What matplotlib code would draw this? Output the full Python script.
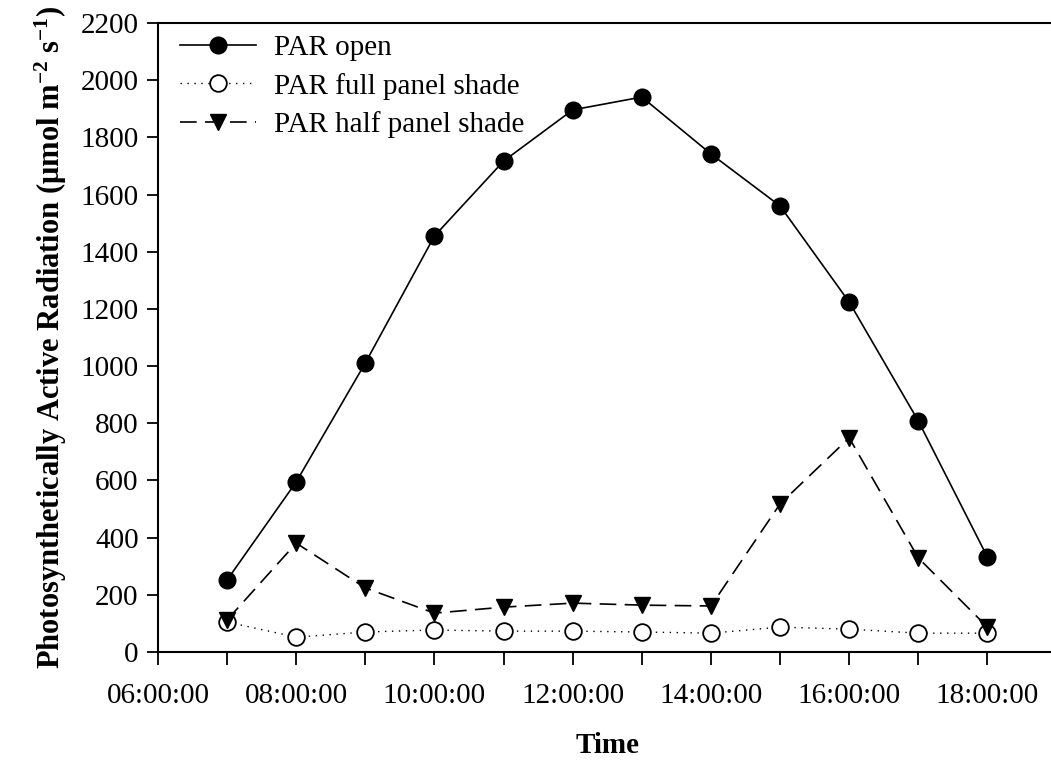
import matplotlib
matplotlib.use("Agg")
from matplotlib import pyplot as plt
import matplotlib.dates as mdates
import pandas as pd

# Data
times = ["07:00:00", "08:00:00", "09:00:00", "10:00:00", "11:00:00", "12:00:00",
         "13:00:00", "14:00:00", "15:00:00", "16:00:00", "17:00:00", "18:00:00"]
par_open = [252, 595, 1011, 1455, 1717, 1896, 1941, 1742, 1560, 1224, 808, 332]
par_full_shade = [105, 52, 70, 77, 73, 73, 70, 66, 87, 80, 66, 66]
par_half_shade = [112, 381, 224, 136, 157, 171, 164, 161, 518, 749, 329, 87]
yticks = list(range(0, 2201, 200))

plt.rcParams['font.family'] = ['Liberation Serif', 'DejaVu Serif']
plt.rcParams['mathtext.fontset'] = 'custom'
plt.rcParams['mathtext.rm'] = 'Liberation Serif:bold'
plt.rcParams['mathtext.bf'] = 'Liberation Serif:bold'
plt.rcParams['mathtext.default'] = 'bf'

t = pd.to_datetime(["2000-01-01 " + s for s in times])

fig = plt.figure(figsize=(10.51, 7.61), dpi=100)
ax = fig.add_axes([0.1503, 0.1432, 0.855, 0.8266])

ax.plot(t, par_open, color='black', lw=1.2, marker='o', markersize=12,
        label="PAR open")
ax.plot(t, par_full_shade, color='black', lw=1.0, linestyle=(0, (1, 4)),
        marker='o', markersize=12, markerfacecolor='white',
        markeredgecolor='black', markeredgewidth=1.3, label="PAR full panel shade")
ax.plot(t, par_half_shade, color='black', lw=1.2, linestyle=(0, (10, 5)),
        marker='v', markersize=12, label="PAR half panel shade")

ax.set_xlim(pd.Timestamp("2000-01-01 06:00:00"), pd.Timestamp("2000-01-01 19:00:00"))
ax.set_ylim(0, 2200)
ax.set_yticks(yticks)

ax.xaxis.set_major_locator(mdates.HourLocator(byhour=range(6, 20, 2)))
ax.xaxis.set_minor_locator(mdates.HourLocator(byhour=range(7, 20, 2)))
ax.xaxis.set_major_formatter(mdates.DateFormatter('%H:%M:%S'))

ax.tick_params(axis='both', which='both', direction='out', width=1.3,
               labelsize=21, colors='black')
ax.tick_params(axis='x', which='both', length=9, pad=13)
ax.tick_params(axis='y', length=8, pad=6)

for s in ax.spines.values():
    s.set_linewidth(1.5)

ax.set_xlabel("Time", fontsize=21, fontweight='bold', labelpad=17)
ax.set_ylabel(r"Photosynthetically Active Radiation (μmol m$^{-2}$ s$^{-1}$)",
              fontsize=22, fontweight='bold', labelpad=8)

ax.legend(loc='upper left', frameon=False, fontsize=21, handlelength=2.6,
          borderaxespad=0.0, labelspacing=0.4, handletextpad=0.6,
          bbox_to_anchor=(0.012, 1.0))

fig.savefig("out.png", dpi=100)
